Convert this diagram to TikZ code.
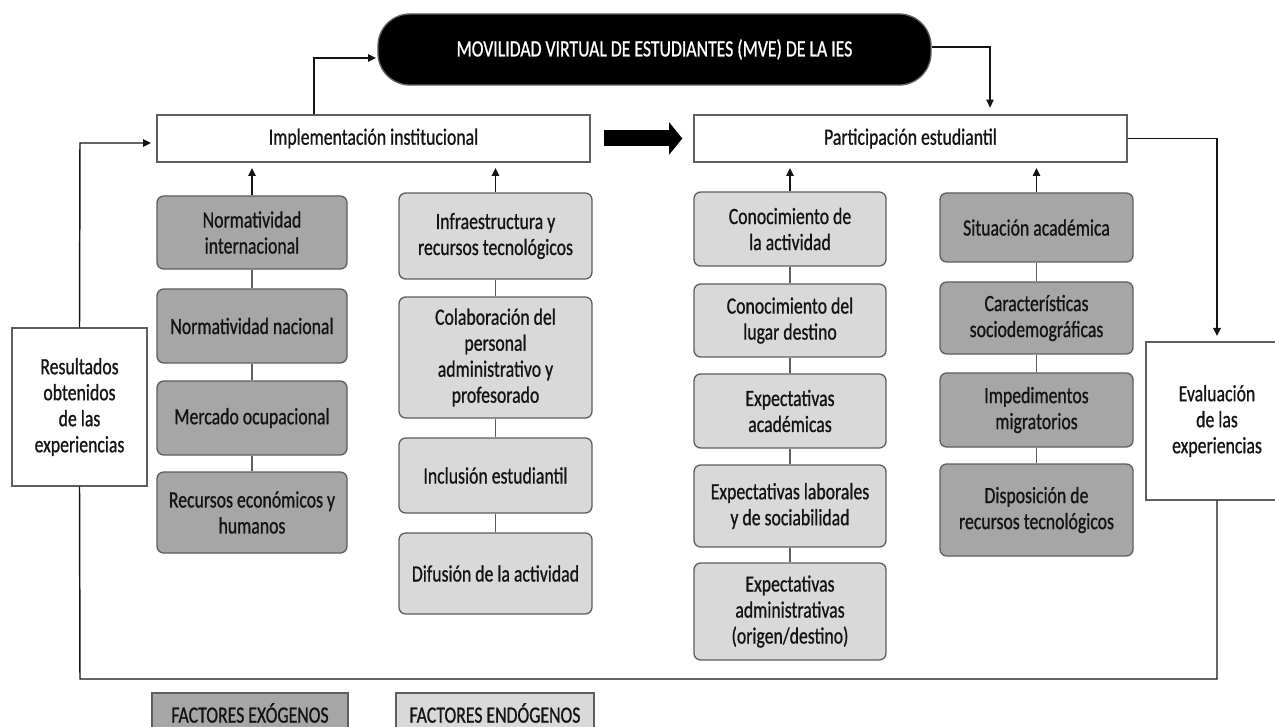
\documentclass[tikz,border=0pt]{standalone}
\usepackage{fontspec}
\setmainfont{Carlito}[FakeStretch=0.76, FakeBold=0.8]
\usetikzlibrary{arrows.meta,calc}
\definecolor{exo}{HTML}{A6A6A6}
\definecolor{endo}{HTML}{D9D9D9}
\definecolor{edge}{HTML}{5E5E5E}
\definecolor{ink}{HTML}{141414}

\tikzset{
  txt/.style={font=\fontsize{17.5}{19.5}\selectfont, align=center, text=ink, inner sep=2pt},
  base/.style={txt, draw=edge, line width=1pt},
  exobox/.style={base, fill=exo, rounded corners=5pt},
  endobox/.style={base, fill=endo, rounded corners=5pt},
  plainbox/.style={base, fill=white},
  legexo/.style={base, fill=exo},
  legendo/.style={base, fill=endo},
  pillbox/.style={txt, fill=black, draw=edge, line width=1pt, rounded corners=24pt, text=white},
  link/.style={draw=ink, line width=1.1pt},
  chain/.style={draw=edge, line width=1.1pt},
  arr/.style={link, -{Triangle[length=6pt,width=5.5pt]}, shorten >=2pt},
  bigarrow/.style={draw=none, line width=12pt, -{Triangle[length=10pt,width=24pt]}},
}

% box from corner (x1,y1) to (x2,y2), in pixel units
\newcommand\mkbox[7]{%
  \node[#6, minimum width={(#4-#2)*0.75pt}, minimum height={(#5-#3)*0.75pt}]
    (#1) at ({(#2+#4)/2},{(#3+#5)/2}) {#7};}

\begin{document}
\begin{tikzpicture}[x=0.75pt, y=-0.75pt]
\useasboundingbox (0,0) rectangle (1275,727);
\clip (0,0) rectangle (1275,727);

% main blocks
\mkbox{pill}{378}{14}{931}{85}{pillbox}{MOVILIDAD VIRTUAL DE ESTUDIANTES (MVE) DE LA IES}
\mkbox{impl}{157}{115}{590}{162}{plainbox}{Implementación institucional}
\mkbox{part}{694}{115}{1127}{162}{plainbox}{Participación estudiantil}
\mkbox{res}{12}{328}{147}{486}{plainbox}{Resultados\\obtenidos\\de las\\experiencias}
\mkbox{eva}{1146}{342}{1288}{500}{plainbox}{Evaluación\\de las\\experiencias}

% institutional factors
\mkbox{ni}{157}{196}{347}{269}{exobox}{Normatividad\\internacional}
\mkbox{nn}{157}{289}{347}{363}{exobox}{Normatividad nacional}
\mkbox{mo}{157}{381}{347}{455}{exobox}{Mercado ocupacional}
\mkbox{re}{157}{472}{347}{553}{exobox}{Recursos económicos y\\humanos}

\mkbox{inf}{399}{193}{592}{279}{endobox}{Infraestructura y\\recursos tecnológicos}
\mkbox{col}{399}{297}{592}{418}{endobox}{Colaboración del\\personal\\administrativo y\\profesorado}
\mkbox{inc}{399}{438}{592}{513}{endobox}{Inclusión estudiantil}
\mkbox{dif}{399}{533}{592}{614}{endobox}{Difusión de la actividad}

% student factors
\mkbox{ca}{694}{192}{886}{266}{endobox}{Conocimiento de\\la actividad}
\mkbox{cl}{694}{284}{886}{357}{endobox}{Conocimiento del\\lugar destino}
\mkbox{ea}{694}{374}{886}{448}{endobox}{Expectativas\\académicas}
\mkbox{el}{694}{465}{886}{547}{endobox}{Expectativas laborales\\y de sociabilidad}
\mkbox{ead}{694}{563}{886}{660}{endobox}{Expectativas\\administrativas\\(origen/destino)}

\mkbox{sa}{940}{193}{1133}{262}{exobox}{Situación académica}
\mkbox{cs}{940}{282}{1133}{354}{exobox}{Características\\sociodemográficas}
\mkbox{im}{940}{373}{1133}{447}{exobox}{Impedimentos\\migratorios}
\mkbox{dr}{940}{464}{1133}{556}{exobox}{Disposición de\\recursos tecnológicos}

% legend
\mkbox{lexo}{152}{693}{348}{733}{legexo}{FACTORES EXÓGENOS}
\mkbox{lendo}{396}{693}{594}{733}{legendo}{FACTORES ENDÓGENOS}

% chains of factors
\draw[chain] (ni) -- (nn) (nn) -- (mo) (mo) -- (re);
\draw[chain] (inf) -- (col) (col) -- (inc) (inc) -- (dif);
\draw[chain] (ca) -- (cl) (cl) -- (ea) (ea) -- (el) (el) -- (ead);
\draw[chain] (sa) -- (cs) (cs) -- (im) (im) -- (dr);

% factors feeding the two blocks
\draw[arr, shorten >=4pt] (ni.north) -- (ni.north |- impl.south);
\draw[arr, shorten >=4pt] (inf.north) -- (inf.north |- impl.south);
\draw[arr, shorten >=4pt] (ca.north) -- (ca.north |- part.south);
\draw[arr, shorten >=4pt] (sa.north) -- (sa.north |- part.south);

% flow around the mobility programme
\coordinate (tl) at (314,58);
\coordinate (tr) at (990,47);
\coordinate (lf) at (80,143);
\coordinate (bl) at (80,679);
\draw[arr, shorten >=1pt] (impl.north -| tl) -- (tl) -- (pill.west |- tl);
\draw[arr, shorten >=5pt] (pill.east |- tr) -- (tr) -- (part.north -| tr);
\draw[arr, shorten >=4pt] (part.east) -| (eva.north);
\draw[link] (eva.south) |- (bl) -- (res.south);
\draw[arr, shorten >=4pt] (res.north) -- (lf) -- (impl.west |- lf);

% block arrow between the two blocks
\draw[bigarrow, draw=black] ($(impl.east)+(13,0)$) -- ($(part.west)+(-11,0)$);
\end{tikzpicture}
\end{document}
